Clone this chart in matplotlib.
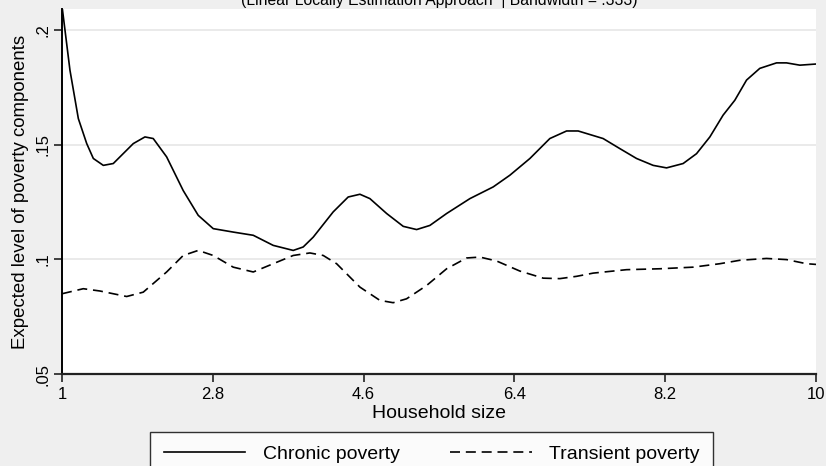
import matplotlib
matplotlib.use("Agg")
import matplotlib.pyplot as plt

plt.rcParams['font.family'] = ['Liberation Sans', 'DejaVu Sans']

# Chronic poverty (solid)
chronic_x = [1.0, 1.095, 1.195, 1.295, 1.374, 1.493, 1.612, 1.851, 1.990, 2.089,
             2.249, 2.447, 2.626, 2.805, 3.044, 3.283, 3.521, 3.760, 3.879, 3.999,
             4.237, 4.416, 4.556, 4.675, 4.875, 5.073, 5.233, 5.391, 5.591, 5.869,
             6.147, 6.346, 6.585, 6.823, 7.023, 7.161, 7.459, 7.659, 7.858, 8.056,
             8.216, 8.414, 8.574, 8.733, 8.891, 9.031, 9.171, 9.329, 9.529, 9.648,
             9.807, 10.0]
chronic_y = [0.2105, 0.1825, 0.1614, 0.1505, 0.144, 0.141, 0.1418, 0.1505, 0.1534, 0.1527,
             0.1447, 0.130, 0.1192, 0.1134, 0.1119, 0.1105, 0.1061, 0.1039, 0.1054, 0.1097,
             0.1207, 0.1272, 0.1284, 0.1265, 0.120, 0.1144, 0.1130, 0.1148, 0.120, 0.1265,
             0.1316, 0.1367, 0.144, 0.1527, 0.156, 0.156, 0.1527, 0.1483, 0.144, 0.141,
             0.1399, 0.1418, 0.1461, 0.1534, 0.1629, 0.1694, 0.1782, 0.1833, 0.1857, 0.1857,
             0.1847, 0.1852]

# Transient poverty (dashed)
transient_x = [1.0, 1.254, 1.453, 1.772, 1.970, 2.249, 2.447, 2.626, 2.805, 3.044,
               3.283, 3.521, 3.760, 3.959, 4.118, 4.278, 4.556, 4.795, 4.953, 5.113,
               5.352, 5.591, 5.829, 5.988, 6.187, 6.465, 6.744, 6.943, 7.142, 7.340,
               7.738, 8.136, 8.533, 8.852, 9.091, 9.409, 9.648, 9.887, 10.0]
transient_y = [0.0850, 0.0872, 0.0862, 0.0838, 0.0857, 0.0945, 0.1017, 0.1039, 0.1017, 0.0966,
               0.0945, 0.0981, 0.1017, 0.1028, 0.1017, 0.0981, 0.0879, 0.0821, 0.0811, 0.0828,
               0.0886, 0.0959, 0.1006, 0.1010, 0.0993, 0.0949, 0.0918, 0.0916, 0.0926, 0.094,
               0.0955, 0.0959, 0.0966, 0.0981, 0.0996, 0.1004, 0.0999, 0.0981, 0.0978]

xticks = [1, 2.8, 4.6, 6.4, 8.2, 10]
xtick_labels = ["1", "2.8", "4.6", "6.4", "8.2", "10"]
yticks = [0.05, 0.1, 0.15, 0.2]
ytick_labels = [".05", ".1", ".15", ".2"]

bg = "#efefef"
fig = plt.figure(figsize=(8.26, 4.66), dpi=100, facecolor=bg)
ax = fig.add_axes([62/826, 1 - 374/466, (816 - 62)/826, (374 - 9)/466])
ax.set_facecolor("white")

ax.plot(chronic_x, chronic_y, color="black", lw=1.2, label="Chronic poverty")
ax.plot(transient_x, transient_y, color="black", lw=1.2, dashes=(6, 3.5), label="Transient poverty")

ax.set_xlim(1, 10)
ax.set_ylim(0.05, 0.2092)
ax.set_xticks(xticks)
ax.set_xticklabels(xtick_labels, fontsize=12)
ax.set_yticks(yticks)
ax.set_yticklabels(ytick_labels, fontsize=12, rotation=90, va="center")
ax.tick_params(axis="both", direction="out", length=6, width=1.2, color="#222222")
ax.tick_params(axis="x", pad=3.5)
ax.tick_params(axis="y", pad=2)

for y in [0.1, 0.15, 0.2]:
    ax.axhline(y, color="#e6e6e6", lw=1.2, zorder=0)

for s in ["top", "right"]:
    ax.spines[s].set_visible(False)
ax.spines["left"].set_linewidth(1.4)
ax.spines["bottom"].set_linewidth(1.6)
ax.spines["bottom"].set_color("#222222")

ax.set_xlabel("Household size", fontsize=14, labelpad=2)
ax.set_ylabel("Expected level of poverty components", fontsize=13.4, labelpad=5)

fig.text(439/826, 1 - 1/466, "(Linear Locally Estimation Approach  | Bandwidth = .333)",
         ha="center", va="center", fontsize=11.3)

leg = fig.legend(loc="upper left", bbox_to_anchor=(150/826, 1 - 432/466), ncol=2,
                 frameon=True, fancybox=False, fontsize=14, handlelength=4.2,
                 handletextpad=0.9, columnspacing=2.6, borderpad=0.7, borderaxespad=0)
leg.get_frame().set_edgecolor("black")
leg.get_frame().set_linewidth(1.0)

fig.savefig("out.png", dpi=100, facecolor=bg)
